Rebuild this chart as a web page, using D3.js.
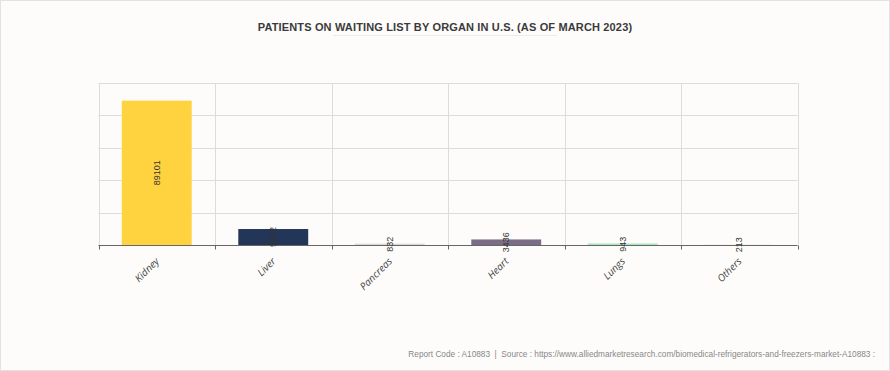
<!DOCTYPE html>
<html><head><meta charset="utf-8">
<script src="https://cdn.jsdelivr.net/npm/d3@7"></script>
<style>
html,body{margin:0;padding:0;background:#fdfcfa;}
svg{display:block;}
</style></head>
<body>
<script>
const categories = ["Kidney","Liver","Pancreas","Heart","Lungs","Others"];
const values = [89101, 9862, 832, 3436, 943, 213];
const colors = ["#ffd23f","#243658","#d9d9d9","#7b6d87","#a8e6bf","#ebe6da"];
const yTicks = [0, 20000, 40000, 60000, 80000, 100000];
const title = "PATIENTS ON WAITING LIST BY ORGAN IN U.S. (AS OF MARCH 2023)";
const footer = "Report Code : A10883  |  Source : https://www.alliedmarketresearch.com/biomedical-refrigerators-and-freezers-market-A10883 :";

const W = 890, H = 371;
const svg = d3.select("body").append("svg").attr("width", W).attr("height", H);
svg.append("rect").attr("x",0.5).attr("y",0.5).attr("width",W-1).attr("height",H-1)
  .attr("fill","#fdfcfa").attr("stroke","#e2e2e2");

const m = {left: 98.5, right: 797.5, top: 83, bottom: 245};
const x = d3.scaleBand().domain(categories).range([m.left, m.right]).paddingInner(0.4).paddingOuter(0.2);
const y = d3.scaleLinear().domain([0, 100000]).range([m.bottom, m.top]);

// title
svg.append("text").attr("x", 445).attr("y", 31).attr("text-anchor","middle")
  .attr("font-family","Liberation Sans, Arial, sans-serif").attr("font-weight","bold")
  .attr("font-size","11px").attr("letter-spacing","0.15px").attr("fill","#3a3a3a").text(title);
svg.append("line").attr("x1",333).attr("x2",557).attr("y1",35.5).attr("y2",35.5)
  .attr("stroke","#ececec").attr("stroke-width",1);

// grid horizontal
const g = svg.append("g");
g.selectAll("line.h").data(yTicks).join("line")
  .attr("x1", m.left).attr("x2", m.right)
  .attr("y1", d => Math.round(y(d))+0.5).attr("y2", d => Math.round(y(d))+0.5)
  .attr("stroke","#dcdcdc").attr("stroke-width",1);
// grid vertical at band boundaries
const bounds = categories.map(c => x(c) - x.step()*x.paddingInner()/2);
bounds.push(m.right);
bounds[0] = m.left;
g.selectAll("line.v").data(bounds).join("line")
  .attr("x1", d => Math.round(d)+0.5).attr("x2", d => Math.round(d)+0.5)
  .attr("y1", m.top).attr("y2", m.bottom)
  .attr("stroke","#dcdcdc").attr("stroke-width",1);

// bars
svg.selectAll("rect.bar").data(values).join("rect")
  .attr("x", (d,i) => x(categories[i])).attr("width", x.bandwidth())
  .attr("y", d => y(d)).attr("height", d => y(0) - y(d))
  .attr("fill", (d,i) => colors[i]);

// x axis
const xAxis = svg.append("g").attr("transform",`translate(0,${m.bottom+0.5})`);
xAxis.append("line").attr("x1",m.left).attr("x2",m.right).attr("stroke","#666").attr("stroke-width",1);
xAxis.selectAll("line.t").data(bounds).join("line")
  .attr("x1", d => Math.round(d)+0.5).attr("x2", d => Math.round(d)+0.5)
  .attr("y1",0).attr("y2",4).attr("stroke","#666");

// bar value labels
svg.selectAll("text.val").data(values).join("text")
  .attr("transform", (d,i) => `translate(${x(categories[i]) + x.bandwidth()/2},${(y(d)+y(0))/2}) rotate(-90)`)
  .attr("text-anchor","middle").attr("dy","0.35em")
  .attr("font-family","Liberation Sans, Arial, sans-serif").attr("font-size","9px")
  .attr("fill","#333").text(d => d);

// category labels
svg.selectAll("text.cat").data(categories).join("text")
  .attr("transform", d => `translate(${x(d) + x.bandwidth()/2 + 3},${m.bottom + 17}) rotate(-45)`)
  .attr("text-anchor","end")
  .attr("font-family","Open Sans, sans-serif").attr("font-style","italic").attr("font-size","10px")
  .attr("fill","#444").text(d => d);

// footer
svg.append("text").attr("x", 875).attr("y", 357).attr("text-anchor","end")
  .attr("font-family","Liberation Sans, Arial, sans-serif").attr("font-size","8.25px")
  .attr("fill","#888").attr("xml:space","preserve").style("white-space","pre").text(footer);
</script>
</body></html>
